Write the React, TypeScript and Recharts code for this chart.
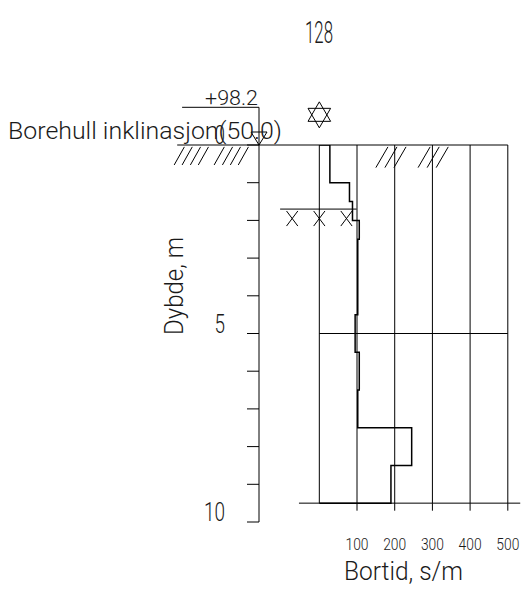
import React from "react";
import { ComposedChart, XAxis, YAxis, Scatter, ReferenceLine, ReferenceDot } from "recharts";

// Borehole 128 – bortid (s/m) per depth interval
const layerTop = [0, 1, 1.5, 2, 2.5, 4.5, 5.5, 6.5, 7.5, 8.5];
const bortid = [28, 80, 88, 106, 102, 95, 106, 102, 245, 190];
const stopDepth = 9.5;
const groundwaterDepth = 1.7;

const boreholeNo = "128";
const elevationText = "+98.2";
const boreholeText = "Borehull inklinasjon(50.0)";
const xTitle = "Bortid, s/m";
const yTitle = "Dybde, m";

const xTicks = [100, 200, 300, 400, 500];
const gridX = [0, 100, 200, 300, 400, 500];
const depthTicks = [0, 1, 2, 3, 4, 5, 6, 7, 8, 9, 10];
const depthLabels = [0, 5, 10];

// decoration positions, in chart units (bortid, depth)
const hatchLeft = [-385, -364, -342, -321, -279, -257, -236, -215];
const hatchRight = [150, 174, 198, 262, 286, 310];
const waterMarks = [-72, 0, 72];

const FONT = "Roboto, 'Liberation Sans', sans-serif";
const INK = "#000";
const TEXT = "#1a1a1a";

const X_MIN = -160;
const X_MAX = 535;

// step outline of the profile
const profile: { x: number; y: number }[] = [{ x: 0, y: 0 }];
layerTop.forEach((top, i) => {
  const bottom = i + 1 < layerTop.length ? layerTop[i + 1] : stopDepth;
  profile.push({ x: bortid[i], y: top }, { x: bortid[i], y: bottom });
});
profile.push({ x: 0, y: stopDepth });

const seg = (x1: number, y1: number, x2: number, y2: number, key: string, w = 1) => (
  <ReferenceLine
    key={key}
    segment={[{ x: x1, y: y1 }, { x: x2, y: y2 }]}
    stroke={INK}
    strokeWidth={w}
    ifOverflow="visible"
  />
);

const DepthTick = (props: any) => {
  const { x, y, payload } = props;
  if (!depthLabels.includes(payload.value)) return <g />;
  const len = String(payload.value).length * 10.5;
  return (
    <text
      x={x - 20}
      y={y - 1}
      textAnchor="end"
      fontFamily={FONT}
      fontWeight={300}
      fontSize={25}
      fill={TEXT}
      textLength={len}
      lengthAdjust="spacingAndGlyphs"
    >
      {payload.value}
    </text>
  );
};

const BortidTick = (props: any) => {
  const { x, y, payload } = props;
  return (
    <text
      x={x}
      y={y + 28}
      textAnchor="middle"
      fontFamily={FONT}
      fontWeight={300}
      fontSize={17}
      fill={TEXT}
      textLength={23}
      lengthAdjust="spacingAndGlyphs"
    >
      {payload.value}
    </text>
  );
};

const Star = (props: any) => {
  const { cx, cy } = props;
  const r = 13;
  const h = r * 0.87;
  return (
    <g fill="none" stroke={INK} strokeWidth={1}>
      <polygon points={`${cx},${cy - r} ${cx + h},${cy + r / 2} ${cx - h},${cy + r / 2}`} />
      <polygon points={`${cx},${cy + r} ${cx + h},${cy - r / 2} ${cx - h},${cy - r / 2}`} />
    </g>
  );
};

const Triangle = (props: any) => {
  const { cx, cy } = props;
  return (
    <polygon
      points={`${cx - 8},${cy - 13} ${cx + 8},${cy - 13} ${cx},${cy}`}
      fill="none"
      stroke={INK}
      strokeWidth={1}
    />
  );
};

export default function App() {
  return (
    <div style={{ position: "absolute", left: 0, top: 0, width: 525, height: 596, background: "#fff" }}>
      <ComposedChart
        width={525}
        height={596}
        data={profile}
        margin={{ top: 145, right: 4, bottom: 0, left: 199 }}
      >
        <XAxis
          type="number"
          dataKey="x"
          domain={[X_MIN, X_MAX]}
          allowDataOverflow
          ticks={xTicks}
          axisLine={false}
          tickLine={false}
          tickSize={0}
          tickMargin={0}
          height={74}
          tick={<BortidTick />}
        />
        <YAxis
          type="number"
          dataKey="y"
          domain={[0, 10]}
          reversed
          allowDataOverflow
          ticks={depthTicks}
          interval={0}
          width={60}
          tickSize={12}
          axisLine={{ stroke: INK }}
          tickLine={{ stroke: INK }}
          tick={<DepthTick />}
        />

        {/* grid of the profile */}
        {gridX.map(v => seg(v, 0, v, stopDepth, `g${v}`))}
        {seg(0, 5, 500, 5, "h5")}
        {seg(-54, stopDepth, 533, stopDepth, "base")}
        {xTicks.map(v => seg(v, stopDepth, v, stopDepth + 0.2, `t${v}`))}

        {/* terrain, elevation marker and hatching */}
        {seg(-377, 0, 500, 0, "ground")}
        {seg(-364, -1.0, X_MIN, -1.0, "elev")}
        {seg(X_MIN, -1.0, X_MIN, 0, "elevv")}
        {hatchLeft.map((v, i) => seg(v, 0.53, v + 27, 0.05, `hl${i}`))}
        {hatchRight.map((v, i) => seg(v, 0.6, v + 32, 0.05, `hr${i}`))}

        {/* groundwater */}
        {seg(-104, groundwaterDepth, 99, groundwaterDepth, "gw")}
        {waterMarks.map((v, i) => [
          seg(v - 15, groundwaterDepth + 0.05, v + 15, groundwaterDepth + 0.45, `wa${i}`),
          seg(v - 15, groundwaterDepth + 0.45, v + 15, groundwaterDepth + 0.05, `wb${i}`),
        ])}

        <ReferenceDot x={0} y={-0.8} ifOverflow="visible" shape={<Star />} />
        <ReferenceDot x={X_MIN} y={0} ifOverflow="visible" shape={<Triangle />} />

        <Scatter
          data={profile}
          dataKey="y"
          line={{ stroke: INK, strokeWidth: 1.5 }}
          lineType="joint"
          shape={() => <g />}
          isAnimationActive={false}
        />
      </ComposedChart>

      <svg
        width={525}
        height={596}
        style={{ position: "absolute", left: 0, top: 0, pointerEvents: "none" }}
      >
        <text x={305} y={43} fontFamily={FONT} fontWeight={300} fontSize={31} fill={TEXT} textLength={28} lengthAdjust="spacingAndGlyphs">
          {boreholeNo}
        </text>
        <text x={205} y={105} fontFamily={FONT} fontWeight={300} fontSize={21} fill={TEXT} textLength={53} lengthAdjust="spacingAndGlyphs">
          {elevationText}
        </text>
        <text x={8} y={139} fontFamily={FONT} fontWeight={300} fontSize={24} fill={TEXT} textLength={274} lengthAdjust="spacingAndGlyphs">
          {boreholeText}
        </text>
        <text
          x={183}
          y={286}
          transform="rotate(-90 183 286)"
          textAnchor="middle"
          fontFamily={FONT}
          fontWeight={300}
          fontSize={25}
          fill={TEXT}
          textLength={98}
          lengthAdjust="spacingAndGlyphs"
        >
          {yTitle}
        </text>
        <text x={344} y={580} fontFamily={FONT} fontWeight={300} fontSize={26} fill={TEXT} textLength={119} lengthAdjust="spacingAndGlyphs">
          {xTitle}
        </text>
      </svg>
    </div>
  );
}
